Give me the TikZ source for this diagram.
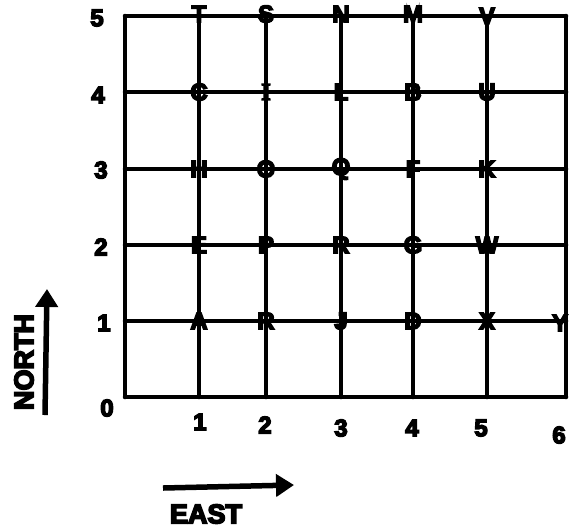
\documentclass[tikz,border=0pt]{standalone}
\usepackage{fontspec}
\setmainfont{Liberation Sans}[BoldFeatures={FakeBold=6}]
\newfontfamily\serifI{Liberation Serif}[BoldFeatures={FakeBold=6}]
\usetikzlibrary{arrows.meta}
\begin{document}
\begin{tikzpicture}[x=1pt,y=-1pt,
  gridline/.style={line width=4.5pt,black,line cap=round},
  letter/.style={font=\fontsize{24}{24}\selectfont\bfseries,inner sep=0pt},
  num/.style={font=\fontsize{24}{24}\selectfont\bfseries,inner sep=0pt},
  axisarrow/.style={line width=5.5pt,-{Triangle[length=18pt,width=22pt]}},
  axislabel/.style={font=\fontsize{27}{27}\selectfont\bfseries,inner sep=0pt}]
\useasboundingbox (0,0) rectangle (569,531);
% grid coordinates
\def\xs{{125,199,266,341,413,487,566}}
\def\ys{{397,321,245,169,92,16}}
% horizontal lines
\foreach \j in {0,...,5}{
  \pgfmathsetmacro{\yy}{\ys[\j]}
  \draw[gridline] (125,\yy) -- (566,\yy);
}
% vertical lines
\foreach \i in {0,...,6}{
  \pgfmathsetmacro{\xx}{\xs[\i]}
  \draw[gridline] (\xx,16) -- (\xx,397);
}
% letters at intersections
\node[letter] (T) at (199,14) {T};
\node[letter] (S) at (266,14) {S};
\node[letter] (N) at (341,14) {N};
\node[letter] (M) at (413,14) {M};
\node[letter] (V) at (487,16) {V};
\node[letter] (C) at (199,92) {C};
\node[letter] (I) at (266,92) {\serifI\bfseries I};
\node[letter] (L) at (341,92) {L};
\node[letter] (B) at (413,92) {B};
\node[letter] (U) at (487,92) {U};
\node[letter] (H) at (199,169) {H};
\node[letter] (O) at (266,169) {O};
\node[letter] (Q) at (341,169) {Q};
\node[letter] (F) at (413,169) {F};
\node[letter] (K) at (487,169) {K};
\node[letter] (E) at (199,245) {E};
\node[letter] (P) at (266,245) {P};
\node[letter] (R2) at (341,245) {R};
\node[letter] (G) at (413,245) {G};
\node[letter] (W) at (487,245) {W};
\node[letter] (A) at (199,321) {A};
\node[letter] (R1) at (266,321) {R};
\node[letter] (J) at (341,321) {J};
\node[letter] (D) at (413,321) {D};
\node[letter] (X) at (487,321) {X};
\node[letter] (Y) at (560,323) {Y};
% y-axis numbers
\node[num] (y5) at (97,18) {5};
\node[num] (y4) at (98,95) {4};
\node[num] (y3) at (101,170) {3};
\node[num] (y2) at (101,247) {2};
\node[num] (y1) at (104,323) {1};
\node[num] (y0) at (107,408) {0};
% x-axis numbers
\node[num] (x1) at (200,422) {1};
\node[num] (x2) at (265,425) {2};
\node[num] (x3) at (341,428) {3};
\node[num] (x4) at (412,428) {4};
\node[num] (x5) at (481,428) {5};
\node[num] (x6) at (559,435) {6};
% north arrow
\coordinate (nS) at (45,415);
\coordinate (nE) at (47,289);
\draw[axisarrow] (nS) -- (nE);
\node[axislabel,rotate=90] (north) at (24,362) {NORTH};
% east arrow
\coordinate (eS) at (163,488);
\coordinate (eE) at (294,485);
\draw[axisarrow] (eS) -- (eE);
\node[axislabel] (east) at (206,514) {EAST};
\end{tikzpicture}
\end{document}
